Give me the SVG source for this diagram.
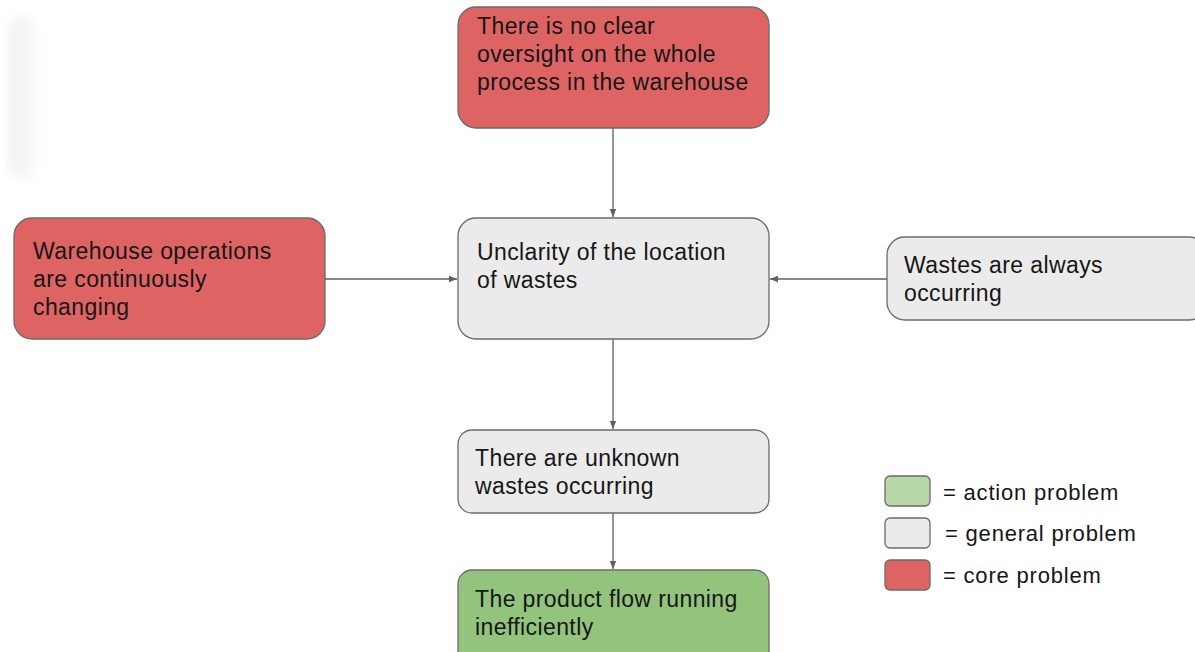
<svg xmlns="http://www.w3.org/2000/svg" width="1195" height="652" viewBox="0 0 1195 652">
  <style>
    .box { stroke: #6b6b6b; stroke-width: 1.3; }
    .core { fill: #de6464; }
    .general { fill: #ebebeb; }
    .action { fill: #93c47d; }
    .action-light { fill: #b6d7a8; }
    .label { font-family: "Liberation Sans", Arial, sans-serif; font-size: 23px; letter-spacing: 0.4px; fill: #161616; }
    .legend { font-family: "Liberation Sans", Arial, sans-serif; font-size: 22px; letter-spacing: 0.8px; fill: #161616; }
    .edge { stroke: #5f5f5f; stroke-width: 1.3; fill: none; marker-end: url(#arrow); }
  </style>
  <defs>
    <marker id="arrow" viewBox="0 0 10 10" refX="10" refY="5" markerWidth="8" markerHeight="8" markerUnits="userSpaceOnUse" orient="auto">
      <path d="M0,1 L10,5 L0,9 Z" fill="#5f5f5f"/>
    </marker>
    <linearGradient id="fade" x1="0" y1="0" x2="1" y2="0">
      <stop offset="0" stop-color="#f1f1f1"/>
      <stop offset="1" stop-color="#fcfcfc"/>
    </linearGradient>
    <filter id="soft" x="-50%" y="-20%" width="200%" height="140%">
      <feGaussianBlur stdDeviation="4"/>
    </filter>
  </defs>

  <rect width="1195" height="652" fill="#ffffff"/>

  <!-- faint blurred shape at left edge -->
  <rect x="8" y="15" width="32" height="165" rx="18" fill="url(#fade)" filter="url(#soft)"/>

  <g id="connectors">
    <line class="edge" x1="613" y1="128" x2="613" y2="217"/>
    <line class="edge" x1="325" y1="279" x2="457" y2="279"/>
    <line class="edge" x1="887" y1="279" x2="770" y2="279"/>
    <line class="edge" x1="613" y1="339" x2="613" y2="429"/>
    <line class="edge" x1="613" y1="513" x2="613" y2="569"/>
  </g>

  <g id="node-oversight">
    <rect class="box core" x="458" y="7" width="311" height="121" rx="18"/>
    <text class="label" x="477" y="34">There is no clear</text>
    <text class="label" x="477" y="62">oversight on the whole</text>
    <text class="label" x="477" y="90">process in the warehouse</text>
  </g>

  <g id="node-operations">
    <rect class="box core" x="14" y="218" width="311" height="121" rx="18"/>
    <text class="label" x="33" y="259">Warehouse operations</text>
    <text class="label" x="33" y="287">are continuously</text>
    <text class="label" x="33" y="315">changing</text>
  </g>

  <g id="node-unclarity">
    <rect class="box general" x="458" y="218" width="311" height="121" rx="18"/>
    <text class="label" x="477" y="260">Unclarity of the location</text>
    <text class="label" x="477" y="288">of wastes</text>
  </g>

  <g id="node-always">
    <rect class="box general" x="887" y="237" width="320" height="83" rx="18"/>
    <text class="label" x="904" y="273">Wastes are always</text>
    <text class="label" x="904" y="301">occurring</text>
  </g>

  <g id="node-unknown">
    <rect class="box general" x="458" y="430" width="311" height="83" rx="14"/>
    <text class="label" x="475" y="466">There are unknown</text>
    <text class="label" x="475" y="494">wastes occurring</text>
  </g>

  <g id="node-flow">
    <rect class="box action" x="458" y="570" width="311" height="100" rx="14"/>
    <text class="label" x="475" y="607">The product flow running</text>
    <text class="label" x="475" y="635">inefficiently</text>
  </g>

  <g id="legend">
    <rect class="box action-light" x="885" y="476" width="45" height="30" rx="5"/>
    <text class="legend" x="943" y="500">= action problem</text>
    <rect class="box general" x="885" y="518" width="45" height="30" rx="5"/>
    <text class="legend" x="945" y="541">= general problem</text>
    <rect class="box core" x="885" y="560" width="45" height="30" rx="5"/>
    <text class="legend" x="943" y="583">= core problem</text>
  </g>
</svg>
